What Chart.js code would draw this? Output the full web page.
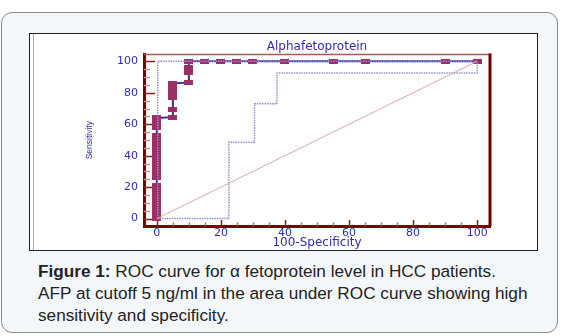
<!DOCTYPE html>
<html>
<head>
<meta charset="utf-8">
<script src="https://cdn.jsdelivr.net/npm/chart.js@4/dist/chart.umd.min.js"></script>
<style>
  html, body { margin: 0; padding: 0; width: 562px; height: 336px; background: #ffffff; overflow: hidden; }
  #outer { position: absolute; left: 1px; top: 12px; width: 555px; height: 319px;
           border: 1px solid #8a8a8a; border-radius: 11px; background: #f4f7fa; }
  #inner { position: absolute; left: 29px; top: 33px; width: 507px; height: 216px;
           border: 1.5px solid #222; background: #fff; box-shadow: inset 3px 0 0 #fff, inset 4px 0 0 #aaa; }
  #wrap { position: absolute; left: 30px; top: 35px; width: 507px; height: 215px; }
  #caption { position: absolute; left: 38px; top: 260px; width: 520px; font-family: "Liberation Sans", Arial, sans-serif;
             font-size: 17.2px; line-height: 22px; color: #222; white-space: nowrap; }
</style>
</head>
<body>
<div id="outer"></div>
<div id="inner"></div>
<div id="wrap"><canvas id="c" width="507" height="215"></canvas></div>
<div id="caption"><b>Figure 1:</b> ROC curve for α fetoprotein level in HCC patients.<br>AFP at cutoff 5 ng/ml in the area under ROC curve showing high<br>sensitivity and specificity.</div>
<script>
// ---- data ----
const chartTitle = "Alphafetoprotein";
const xTitle = "100-Specificity";
const yTitle = "Sensitivity";
const xTickValues = [0, 20, 40, 60, 80, 100];
const yTickValues = [0, 20, 40, 60, 80, 100];
// empirical ROC curve points (100-specificity, sensitivity)
const rocFpr  = [0,0,0,0,0,0,0,0, 0,0,0,0,0,0,0,0,0,0, 0,0,0, 5,5,5,5,5,5, 10,10,10,10, 15,20,25,30,40,55,65,90,100];
const rocSens = [0,3,6,9,12,15,18,21, 26,29,32,35,38,41,44,47,50,53, 58,61,64, 64.5,69.5,77,80,83,86, 86.5,93,96,100, 100,100,100,100,100,100,100,100,100];
// lower confidence bound (dotted)
const lowerFpr  = [0, 22.5, 22.5, 30.5, 30.5, 37.5, 37.5, 100, 100];
const lowerSens = [0, 0, 48.5, 48.5, 73, 73, 92.5, 92.5, 100];
// upper confidence bound (dotted)
const upperFpr  = [0.3, 0.3, 100];
const upperSens = [0, 100, 100];
// reference diagonal
const diagFpr  = [0, 100];
const diagSens = [0, 100];

const pts = (xs, ys) => xs.map((x, i) => ({ x: x, y: ys[i] }));

// marker image
const mk = document.createElement('canvas');
mk.width = 9; mk.height = 5;
(function () {
  const g = mk.getContext('2d');
  g.fillStyle = '#9a2f63'; g.fillRect(0, 0, 9, 5);
})();

const frameAndTicks = {
  id: 'frameAndTicks',
  beforeDatasetsDraw(chart) {
    const ctx = chart.ctx, a = chart.chartArea;
    const xs = chart.scales.x, ys = chart.scales.y;
    ctx.save();
    for (let v = 0; v <= 100; v += 5) {
      const y = Math.round(ys.getPixelForValue(v)) + 0.5;
      const major = v % 20 === 0;
      ctx.strokeStyle = major ? '#8a1c1c' : '#cf8f8f';
      ctx.lineWidth = 1.5;
      ctx.beginPath(); ctx.moveTo(a.left, y); ctx.lineTo(a.left + (major ? 11 : 6), y); ctx.stroke();
    }
    for (let v = 0; v <= 100; v += 5) {
      const x = Math.round(xs.getPixelForValue(v)) + 0.5;
      const major = v % 20 === 0;
      ctx.strokeStyle = major ? '#8a1c1c' : '#b86060';
      ctx.lineWidth = 1.5;
      ctx.beginPath(); ctx.moveTo(x, a.bottom); ctx.lineTo(x, a.bottom - (major ? 6 : 3.5)); ctx.stroke();
    }
    ctx.strokeStyle = '#a35a5a'; ctx.lineWidth = 1.5;
    ctx.beginPath(); ctx.moveTo(a.left, a.top); ctx.lineTo(a.right, a.top); ctx.stroke();
    ctx.strokeStyle = '#6e0000'; ctx.lineWidth = 3;
    ctx.beginPath(); ctx.moveTo(a.right, a.top - 1); ctx.lineTo(a.right, a.bottom); ctx.stroke();
    ctx.restore();
  }
};

const tickFont = { family: 'DejaVu Sans', size: 11 };
const blue = '#2e2ea6';

new Chart(document.getElementById('c'), {
  type: 'scatter',
  data: {
    datasets: [
      { data: pts(diagFpr, diagSens), showLine: true, borderColor: '#dca6a6', borderWidth: 1, pointRadius: 0 },
      { data: pts(lowerFpr, lowerSens), showLine: true, borderColor: '#9090d2', borderWidth: 1.5, borderDash: [1.5, 1], pointRadius: 0 },
      { data: pts(upperFpr, upperSens), showLine: true, borderColor: '#9090d2', borderWidth: 1.5, borderDash: [1.5, 1], pointRadius: 0 },
      { data: pts(rocFpr, rocSens), showLine: true, borderColor: '#33339c', borderWidth: 2,
        pointStyle: mk, pointRadius: 4, pointHoverRadius: 4 }
    ]
  },
  options: {
    responsive: false,
    animation: false,
    events: [],
    layout: { padding: { left: 0, right: 47, top: 0, bottom: 0 } },
    plugins: {
      legend: { display: false },
      tooltip: { enabled: false },
      title: { display: true, text: chartTitle, fullSize: false, color: blue,
               font: { family: 'DejaVu Sans', size: 12, weight: 'normal' }, padding: { top: 5, bottom: 0 } }
    },
    scales: {
      x: {
        type: 'linear', min: -4, max: 104,
        afterBuildTicks: s => { s.ticks = xTickValues.map(v => ({ value: v })); },
        afterFit: s => { s.height = 24; },
        grid: { drawOnChartArea: false, drawTicks: false },
        border: { color: '#7a0000', width: 3 },
        ticks: { color: blue, font: tickFont, padding: 1, maxRotation: 0 },
        title: { display: true, text: xTitle, color: blue, font: { family: 'DejaVu Sans', size: 12 }, padding: { top: 0, bottom: 0 } }
      },
      y: {
        type: 'linear', min: -4.7, max: 104.4,
        afterBuildTicks: s => { s.ticks = yTickValues.map(v => ({ value: v })); },
        afterFit: s => { s.width = 114; },
        grid: { drawOnChartArea: false, drawTicks: false },
        border: { color: '#7a0000', width: 3 },
        ticks: { color: blue, font: tickFont, padding: 6 },
        title: { display: true, text: yTitle, color: blue, font: { family: 'Liberation Sans', size: 8.5 }, padding: { top: 55, bottom: 0 } }
      }
    }
  },
  plugins: [frameAndTicks]
});
</script>
</body>
</html>
